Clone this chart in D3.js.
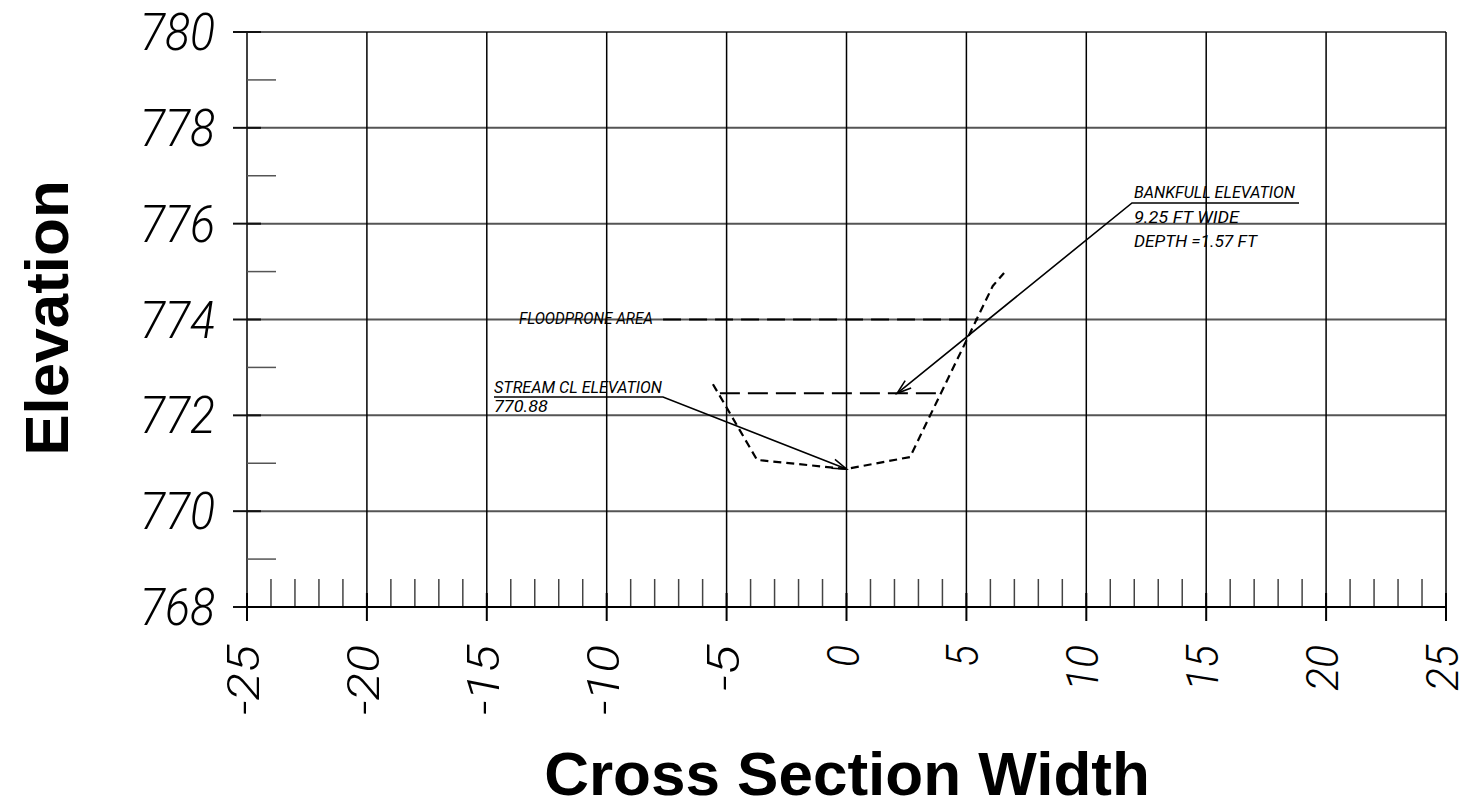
<!DOCTYPE html>
<html>
<head>
<meta charset="utf-8">
<script src="https://cdn.jsdelivr.net/npm/d3@7"></script>
<style>
  html, body { margin: 0; padding: 0; background: #fff; }
  svg { display: block; }
</style>
</head>
<body>
<svg id="chart" width="1469" height="809"></svg>
<script>
// ---------- data ----------
const xTicks = [-25, -20, -15, -10, -5, 0, 5, 10, 15, 20, 25];
const yTicks = [768, 770, 772, 774, 776, 778, 780];
const groundX = [-5.57, -5.3, -3.73, 0, 2.65, 6.1, 6.57];
const groundY = [772.65, 772.42, 771.07, 770.88, 771.13, 774.7, 774.97];
const bankfullX = [-5.28, 3.97];
const bankfullElev = 772.46;
const floodX = [-7.65, 5.48];
const floodElev = 774;
const streamLabel = ["STREAM CL ELEVATION", "770.88"];
const bankLabel = ["BANKFULL ELEVATION", "9.25 FT WIDE", "DEPTH =1.57 FT"];
const floodLabel = "FLOODPRONE AREA";

// ---------- layout ----------
const svg = d3.select("#chart");
const x = d3.scaleLinear().domain([-25, 25]).range([247, 1446]);
const y = d3.scaleLinear().domain([768, 780]).range([607, 32]);
const cad = "Roboto, 'DejaVu Sans', sans-serif";

// horizontal grid lines
const g = svg.append("g");
g.selectAll("line.hg").data(yTicks.filter(v => v !== 768)).join("line")
  .attr("x1", x(-25)).attr("x2", x(25))
  .attr("y1", d => y(d)).attr("y2", d => y(d))
  .attr("stroke", "#555").attr("stroke-width", 2);

// vertical grid lines
g.selectAll("line.vg").data(xTicks).join("line")
  .attr("x1", d => x(d)).attr("x2", d => x(d))
  .attr("y1", y(780)).attr("y2", y(768))
  .attr("stroke", "#000").attr("stroke-width", 1.5);

// y minor ticks (odd values)
const yMinor = d3.range(769, 780, 2);
g.selectAll("line.ym").data(yMinor).join("line")
  .attr("x1", x(-25)).attr("x2", x(-25) + 29)
  .attr("y1", d => y(d)).attr("y2", d => y(d))
  .attr("stroke", "#555").attr("stroke-width", 1.5);

// y major ticks (outward)
g.selectAll("line.yM").data(yTicks).join("line")
  .attr("x1", x(-25) - 14).attr("x2", x(-25) + 14)
  .attr("y1", d => y(d)).attr("y2", d => y(d))
  .attr("stroke", "#111").attr("stroke-width", 2);

// x minor ticks (integers)
const xMinor = d3.range(-24, 25).filter(v => v % 5 !== 0);
g.selectAll("line.xm").data(xMinor).join("line")
  .attr("x1", d => x(d)).attr("x2", d => x(d))
  .attr("y1", y(768)).attr("y2", y(768) - 28)
  .attr("stroke", "#444").attr("stroke-width", 1.5);

// x major ticks
g.selectAll("line.xM").data(xTicks).join("line")
  .attr("x1", d => x(d)).attr("x2", d => x(d))
  .attr("y1", y(768) - 14).attr("y2", y(768) + 14)
  .attr("stroke", "#000").attr("stroke-width", 2);

// bottom axis line
g.append("line").attr("x1", x(-25)).attr("x2", x(25))
  .attr("y1", y(768)).attr("y2", y(768))
  .attr("stroke", "#000").attr("stroke-width", 2);

// y tick labels
g.selectAll("text.yl").data(yTicks).join("text")
  .attr("x", 215).attr("y", d => y(d) + 18)
  .attr("text-anchor", "end")
  .attr("font-family", cad).attr("font-style", "italic").attr("font-weight", 300)
  .attr("font-size", 51)
  .attr("textLength", d => String(d).length * 25)
  .attr("lengthAdjust", "spacingAndGlyphs")
  .text(d => d);

// x tick labels (rotated)
g.selectAll("text.xl").data(xTicks).join("text")
  .attr("transform", d => `translate(${x(d) + 12},645) rotate(-90)`)
  .attr("text-anchor", "end")
  .attr("font-family", cad).attr("font-style", "italic").attr("font-weight", 300)
  .attr("font-size", 45)
  .attr("textLength", d => String(d).length * 24 - 2)
  .attr("lengthAdjust", "spacingAndGlyphs")
  .text(d => d);

// ground profile
const line = d3.line().x(d => x(d[0])).y(d => y(d[1]));
svg.append("path")
  .attr("d", line(d3.zip(groundX, groundY)))
  .attr("fill", "none").attr("stroke", "#000").attr("stroke-width", 2.2)
  .attr("stroke-dasharray", "8,5");

// bankfull line
svg.append("line")
  .attr("x1", x(bankfullX[0])).attr("x2", x(bankfullX[1]))
  .attr("y1", y(bankfullElev)).attr("y2", y(bankfullElev))
  .attr("stroke", "#000").attr("stroke-width", 2).attr("stroke-dasharray", "20,8");

// floodprone line
svg.append("line")
  .attr("x1", x(floodX[0])).attr("x2", x(floodX[1]))
  .attr("y1", y(floodElev)).attr("y2", y(floodElev))
  .attr("stroke", "#000").attr("stroke-width", 2).attr("stroke-dasharray", "18,8");

// annotation helper
function label(lines, x0, baselines, widths) {
  lines.forEach((t, i) => {
    svg.append("text")
      .attr("x", x0).attr("y", baselines[i])
      .attr("font-family", cad).attr("font-style", "italic").attr("font-weight", 400)
      .attr("font-size", 16.5)
      .attr("textLength", widths[i]).attr("lengthAdjust", "spacingAndGlyphs")
      .text(t);
  });
}
function arrow(pts) {
  svg.append("path").attr("d", d3.line()(pts.map(p => [x(p[0]), y(p[1])])))
    .attr("fill", "none").attr("stroke", "#000").attr("stroke-width", 1.6);
  const n = pts.length;
  const tx = x(pts[n - 1][0]), ty = y(pts[n - 1][1]);
  const fx = x(pts[n - 2][0]), fy = y(pts[n - 2][1]);
  const a = Math.atan2(fy - ty, fx - tx);
  const L = 15, s = 0.32;
  svg.append("path")
    .attr("d", `M${tx + L * Math.cos(a + s)},${ty + L * Math.sin(a + s)}L${tx},${ty}L${tx + L * Math.cos(a - s)},${ty + L * Math.sin(a - s)}`)
    .attr("fill", "none").attr("stroke", "#000").attr("stroke-width", 1.6);
}

// floodprone label
label([floodLabel], 519, [323.5], [134]);

// stream CL label
label(streamLabel, 494, [393, 412], [168, 54]);
arrow([[x.invert(494), y.invert(397)], [x.invert(663), y.invert(397)], [0, 770.88]]);

// bankfull label
label(bankLabel, 1134, [198, 223, 247], [161, 105, 123]);
arrow([[x.invert(1299), y.invert(203)], [x.invert(1132), y.invert(203)], [2.11, bankfullElev]]);

// axis titles
svg.append("text")
  .attr("transform", "translate(68,318) rotate(-90)")
  .attr("text-anchor", "middle")
  .attr("font-family", "'Liberation Sans', Arial, sans-serif").attr("font-weight", 700)
  .attr("font-size", 62)
  .text("Elevation");
svg.append("text")
  .attr("x", 847).attr("y", 795)
  .attr("text-anchor", "middle")
  .attr("font-family", "'Liberation Sans', Arial, sans-serif").attr("font-weight", 700)
  .attr("font-size", 62)
  .text("Cross Section Width");
</script>
</body>
</html>
